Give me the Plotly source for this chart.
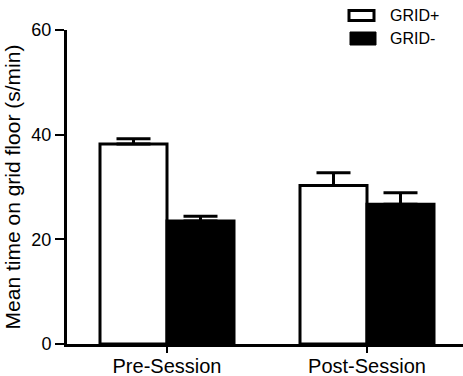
import plotly.graph_objects as go

categories = ["Pre-Session", "Post-Session"]
series_names = ["GRID+", "GRID-"]
grid_plus = [38.2, 30.3]
grid_plus_err = [1.0, 2.4]
grid_minus = [23.5, 26.7]
grid_minus_err = [0.9, 2.2]
y_ticks = [0, 20, 40, 60]

W, H = 463, 376
L, R, T, B = 67, 0, 30, 32
pw, ph = W - L - R, H - T - B

def px(x):
    return (x - L) / pw

def py(y):
    return (H - B - y) / ph

fig = go.Figure()
fig.add_trace(go.Bar(
    x=categories, y=grid_plus, name=series_names[0],
    marker=dict(color="white", line=dict(color="black", width=3)),
    error_y=dict(type="data", symmetric=False, array=grid_plus_err,
                 arrayminus=[0, 0], thickness=3, width=17, color="black"),
))
fig.add_trace(go.Bar(
    x=categories, y=grid_minus, name=series_names[1],
    marker=dict(color="black", line=dict(color="black", width=3)),
    error_y=dict(type="data", symmetric=False, array=grid_minus_err,
                 arrayminus=[0, 0], thickness=3, width=17, color="black"),
))

font = "Arial, Liberation Sans, Helvetica, sans-serif"

shapes = [
    dict(type="rect", xref="paper", yref="paper",
         x0=px(349), x1=px(374), y0=py(10.5), y1=py(20.5),
         line=dict(color="black", width=3), fillcolor="white"),
    dict(type="rect", xref="paper", yref="paper",
         x0=px(350), x1=px(376), y0=py(32), y1=py(45),
         line=dict(color="black", width=1), fillcolor="black"),
]
annotations = [
    dict(x=px(388), y=py(15.5), xref="paper", yref="paper", text=series_names[0],
         showarrow=False, xanchor="left", yanchor="middle",
         font=dict(family=font, size=16, color="black")),
    dict(x=px(388), y=py(38.5), xref="paper", yref="paper", text=series_names[1],
         showarrow=False, xanchor="left", yanchor="middle",
         font=dict(family=font, size=16, color="black")),
]

fig.update_layout(
    width=W, height=H,
    margin=dict(l=L, r=R, t=T, b=B, pad=0, autoexpand=False),
    paper_bgcolor="white", plot_bgcolor="white",
    barmode="group", bargap=0.33, bargroupgap=0,
    showlegend=False,
    font=dict(family=font, color="black"),
    shapes=shapes, annotations=annotations,
    xaxis=dict(
        range=[-0.5, 1.48], showgrid=False, zeroline=False, automargin=False,
        showline=True, linecolor="black", linewidth=3,
        ticks="outside", ticklen=6, tickwidth=2, tickcolor="black",
        ticklabelstandoff=-4,
        tickfont=dict(size=20, family=font),
    ),
    yaxis=dict(
        range=[0, 60], tickvals=y_ticks, showgrid=False, zeroline=False, automargin=False,
        showline=True, linecolor="black", linewidth=3,
        ticks="outside", ticklen=9, tickwidth=2, tickcolor="black",
        tickfont=dict(size=18, family=font),
        title=dict(text="Mean time on grid floor (s/min)",
                   font=dict(size=21, family=font), standoff=6),
    ),
)

fig.write_html("out.html")
